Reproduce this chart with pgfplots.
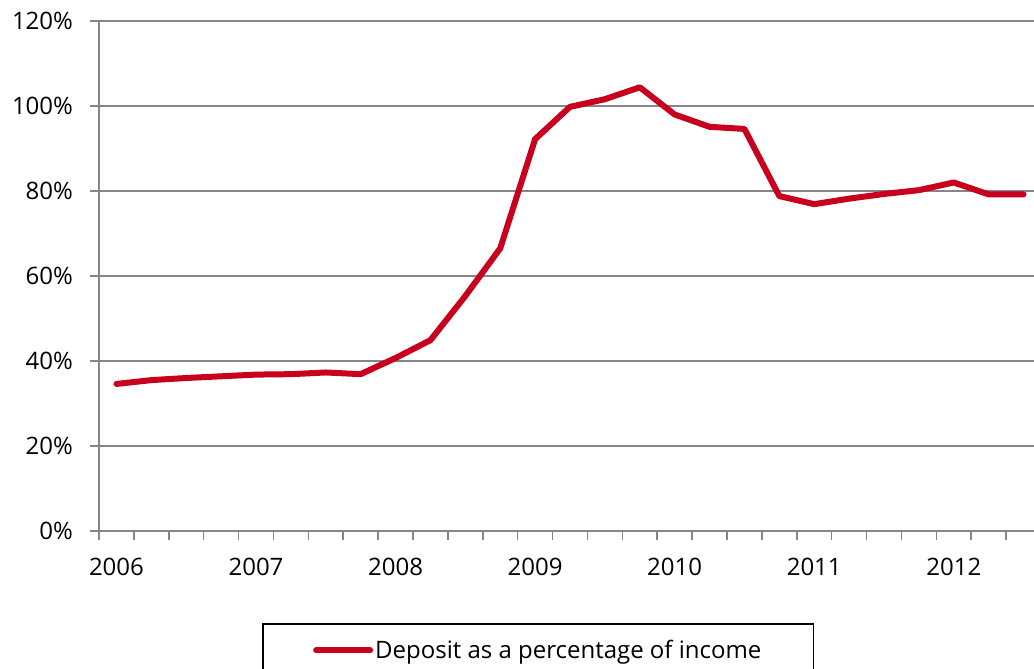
\documentclass[border=0pt]{standalone}
\usepackage{pgfplots}
\pgfplotsset{compat=1.18}
\usepackage{fontspec}
\setmainfont{Open Sans}
\definecolor{depred}{RGB}{200,0,30}
\definecolor{gridgray}{RGB}{134,134,134}

\begin{document}
\begin{tikzpicture}
\begin{axis}[
    at={(49.5pt,69pt)}, anchor=south west,
    scale only axis,
    width=471pt, height=255pt,
    xmin=-0.5, xmax=26.5,
    ymin=0, ymax=120,
    axis x line*=bottom, axis y line*=left,
    axis line style={gridgray, line width=0.75pt, -},
    tick align=outside,
    major tick length=4.5pt,
    tick style={gridgray, line width=0.75pt},
    xtick={-0.5,0.5,...,26.5},
    xticklabels={},
    extra x ticks={0,4,8,12,16,20,24},
    extra x tick labels={2006,2007,2008,2009,2010,2011,2012},
    extra x tick style={major tick length=0pt, grid=none},
    ytick={0,20,...,120},
    yticklabel={\pgfmathprintnumber{\tick}\%},
    ymajorgrids=true,
    grid style={gridgray, line width=0.75pt},
    /pgf/number format/assume math mode=true,
    tick label style={font=\fontsize{12}{14}\selectfont},
    xticklabel style={yshift=-10pt},
    yticklabel style={xshift=-5pt},
    legend style={at={(0.4663,-0.1804)}, anchor=north,
        draw=black, line width=0.75pt,
        inner xsep=25pt, inner ysep=6pt,
        font=\fontsize{12}{14}\selectfont,
        nodes={inner xsep=1pt}},
    legend image code/.code={\draw[#1] (0pt,0pt) -- (27pt,0pt);},
]
\addplot[depred, line width=3pt, line join=round, line cap=round] coordinates {
    (0,34.6) (1,35.5) (2,36.0) (3,36.4) (4,36.8) (5,36.9) (6,37.3)
    (7,36.9) (8,40.7) (9,44.9) (10,55.3) (11,66.5) (12,92.2) (13,99.8)
    (14,101.6) (15,104.4) (16,98.0) (17,95.1) (18,94.6) (19,78.8)
    (20,76.9) (21,78.2) (22,79.3) (23,80.2) (24,82.0) (25,79.2) (26,79.2)
};
\addlegendentry{Deposit as a percentage of income}
\end{axis}
\pgfresetboundingbox
\path[use as bounding box] (0,0) rectangle (517pt,334.5pt);
\end{tikzpicture}
\end{document}
